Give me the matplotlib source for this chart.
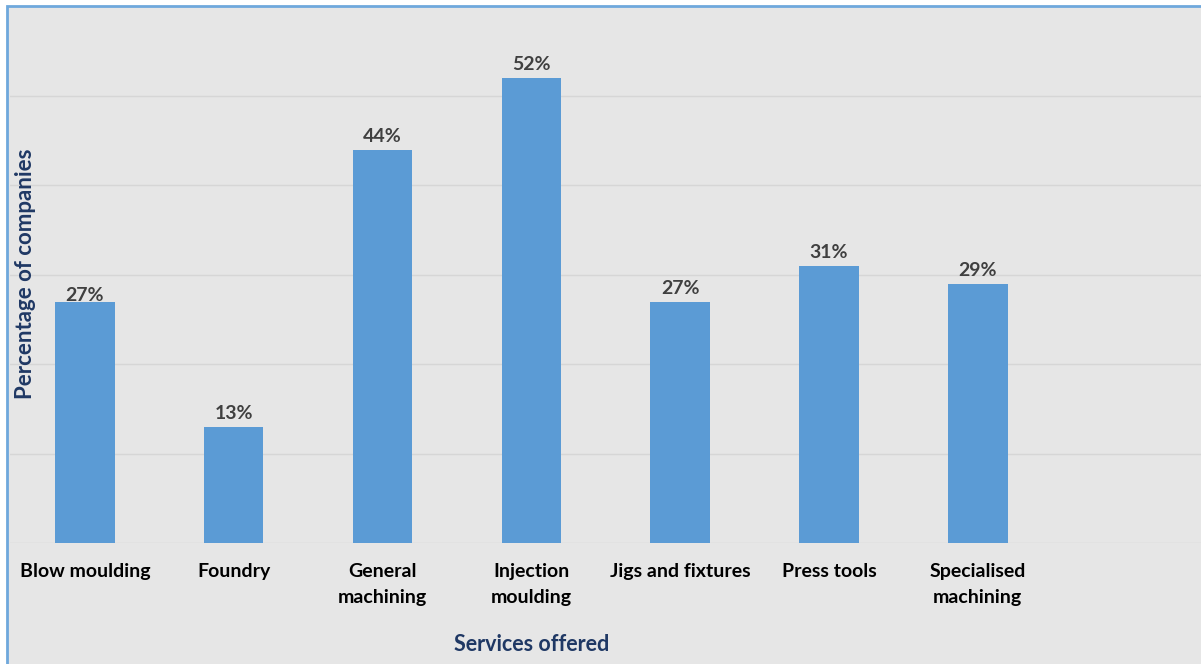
import matplotlib.pyplot as plt
from matplotlib.patches import Rectangle

# services and share of companies offering them (%)
services = ["Blow moulding", "Foundry", "General\nmachining", "Injection\nmoulding",
            "Jigs and fixtures", "Press tools", "Specialised\nmachining", ""]
share = [27, 13, 44, 52, 27, 31, 29, None]

bar_color = "#5b9bd5"
bg = "#e6e6e6"
navy = "#1f3864"

plt.rcParams['font.family'] = ['Lato', 'DejaVu Sans']

W, H = 1201, 664
fig = plt.figure(figsize=(W / 100, H / 100), dpi=100)
fig.patch.set_facecolor("white")

# chart frame: grey panel with a blue edge on top and left
frame = Rectangle((7 / W, -0.05), 1.1, 1 - 6 / H + 0.05, transform=fig.transFigure,
                  facecolor=bg, edgecolor="#6fa8dc", linewidth=2, clip_on=False,
                  zorder=-5)
fig.add_artist(frame)

ax = fig.add_axes([10.4 / W, 121 / H, 1 - 10.4 / W, (543 - 6.6) / H])
ax.set_facecolor("none")

xs = [i for i, v in enumerate(share) if v is not None]
vals = [share[i] for i in xs]
bars = ax.bar(xs, vals, width=0.4, color=bar_color, zorder=3)

# value labels above bars
offsets = [-1.5, 3.5, 3.5, 3.5, 3.5, 3.5, 3.5]
for b, v, off in zip(bars, vals, offsets):
    ax.annotate(f"{v}%", (b.get_x() + b.get_width() / 2, v), xytext=(0, off),
                textcoords="offset points", ha="center", va="bottom",
                fontsize=14, fontweight="bold", color="#404040", zorder=4)

ax.set_xlim(-0.5, len(services) - 0.5)
ax.set_ylim(0, 60)
ax.set_yticks([0, 10, 20, 30, 40, 50])
ax.set_yticklabels([])
ax.tick_params(axis="y", length=0)
ax.set_xticks(range(len(services)))
ax.set_xticklabels(services, fontsize=14, fontweight="bold", color="black",
                   linespacing=1.6, va="top")
ax.tick_params(axis="x", length=0, pad=14.5)
ax.grid(axis="y", color="#d6d6d6", linewidth=1, zorder=0)
for s in ax.spines.values():
    s.set_visible(False)

ax.set_xlabel("Services offered", fontsize=15.5, fontweight="bold", color=navy)
ax.xaxis.set_label_coords(3.5 / len(services), -0.17)
fig.text(26 / W, 1 - 274 / H, "Percentage of companies", rotation=90,
         ha="center", va="center", fontsize=16, fontweight="bold", color=navy)

fig.savefig("out.png", dpi=100, facecolor=fig.get_facecolor())
